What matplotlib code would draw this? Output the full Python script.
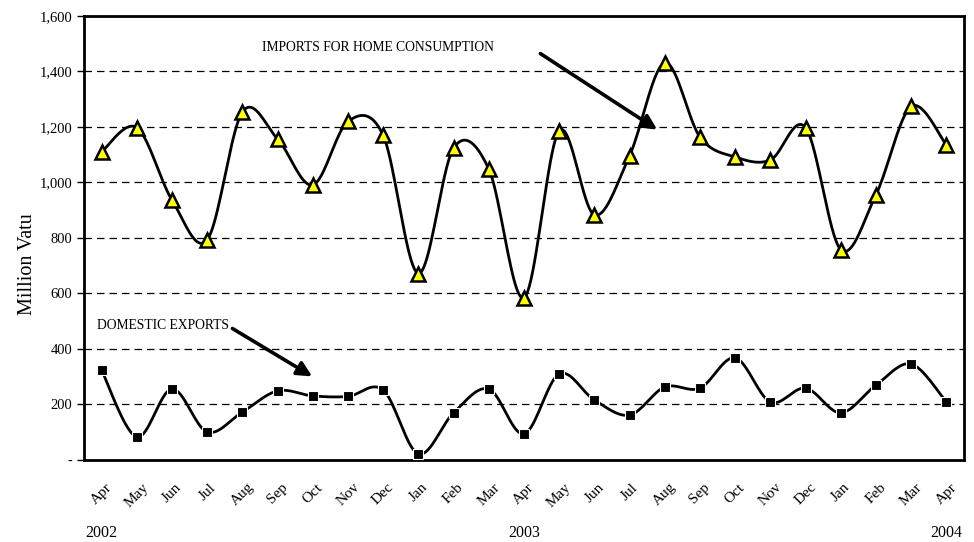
import matplotlib.pyplot as plt
import numpy as np
from matplotlib.ticker import FuncFormatter
import matplotlib.transforms as mtransforms

plt.rcParams['font.family'] = ['Liberation Serif', 'DejaVu Serif']

MONTHS = ["Apr", "May", "Jun", "Jul", "Aug", "Sep", "Oct", "Nov", "Dec",
          "Jan", "Feb", "Mar", "Apr", "May", "Jun", "Jul", "Aug", "Sep",
          "Oct", "Nov", "Dec", "Jan", "Feb", "Mar", "Apr"]
YEARS = {0: "2002", 12: "2003", 24: "2004"}

IMPORTS = [1110, 1198, 937, 793, 1254, 1157, 991, 1220, 1170, 672, 1124, 1049,
           584, 1186, 883, 1097, 1431, 1164, 1092, 1081, 1198, 758, 956, 1274, 1135]
EXPORTS = [324, 83, 256, 101, 173, 249, 231, 229, 252, 22, 170, 256,
           94, 310, 216, 162, 263, 259, 368, 209, 259, 170, 270, 346, 209]


def smooth(y, steps=20):
    # catmull-rom, close to excel's "smoothed line"
    y = np.asarray(y, dtype=float)
    x = np.arange(len(y), dtype=float)
    pts = np.column_stack([x, y])
    ext = np.vstack([pts[0], pts, pts[-1]])
    t = np.linspace(0, 1, steps, endpoint=False)[:, None]
    out = []
    for i in range(1, len(ext) - 2):
        p0, p1, p2, p3 = ext[i - 1], ext[i], ext[i + 1], ext[i + 2]
        c1 = p1 + (p2 - p0) / 6
        c2 = p2 - (p3 - p1) / 6
        seg = ((1 - t) ** 3 * p1 + 3 * (1 - t) ** 2 * t * c1
               + 3 * (1 - t) * t ** 2 * c2 + t ** 3 * p2)
        out.append(seg)
    out.append(pts[-1][None, :])
    out = np.vstack(out)
    return out[:, 0], out[:, 1]


fig = plt.figure(figsize=(9.74, 5.42), dpi=100)
ax = fig.add_axes([0.0862, 0.1513, 0.9035, 0.8192])

x = np.arange(len(MONTHS))
for yy in range(200, 1600, 200):
    ax.axhline(yy, color='black', lw=0.9, ls=(0, (6, 4)), zorder=1)

sx, sy = smooth(IMPORTS)
ax.plot(sx, sy, color='black', lw=2, zorder=2)
ax.plot(x, IMPORTS, ls='none', marker='^', ms=10, mfc='#ffff00', mec='black', mew=1.8, zorder=3)

sx, sy = smooth(EXPORTS)
ax.plot(sx, sy, color='black', lw=2, zorder=2)
ax.plot(x, EXPORTS, ls='none', marker='s', ms=7, mfc='black', mec='white', mew=0.8, zorder=3)

ax.set_xlim(-0.5, len(MONTHS) - 0.5)
ax.set_ylim(0, 1600)
ax.set_yticks(range(0, 1601, 200))
ax.yaxis.set_major_formatter(FuncFormatter(lambda v, p: "-" if v == 0 else f"{int(v):,}"))
ax.set_xticks(x)
ax.set_xticklabels(MONTHS, rotation=45, ha='center', fontsize=11)
ax.tick_params(axis='x', length=0, pad=15)
ax.tick_params(axis='y', labelsize=10.5, length=5, width=1, direction='out')
ax.set_ylabel("Million Vatu", fontsize=14.5)
ax.yaxis.set_label_coords(-0.053, 0.441)

for s in ax.spines.values():
    s.set_linewidth(2)

trans = mtransforms.blended_transform_factory(ax.transData, ax.transAxes)
for i, yr in YEARS.items():
    ax.text(i, -0.165, yr, transform=trans, ha='center', va='center', fontsize=11.5)

ax.text(4.56, 1488, "IMPORTS FOR HOME CONSUMPTION", fontsize=9.8, va='center', ha='left')
ax.annotate("", xy=(15.85, 1185), xytext=(12.4, 1470),
            arrowprops=dict(arrowstyle='-|>', lw=2.6, color='black', mutation_scale=22))
ax.text(-0.13, 486, "DOMESTIC EXPORTS", fontsize=9.8, va='center', ha='left')
ax.annotate("", xy=(6.05, 296), xytext=(3.65, 479),
            arrowprops=dict(arrowstyle='-|>', lw=2.6, color='black', mutation_scale=22))

fig.savefig("out.png", dpi=100)
